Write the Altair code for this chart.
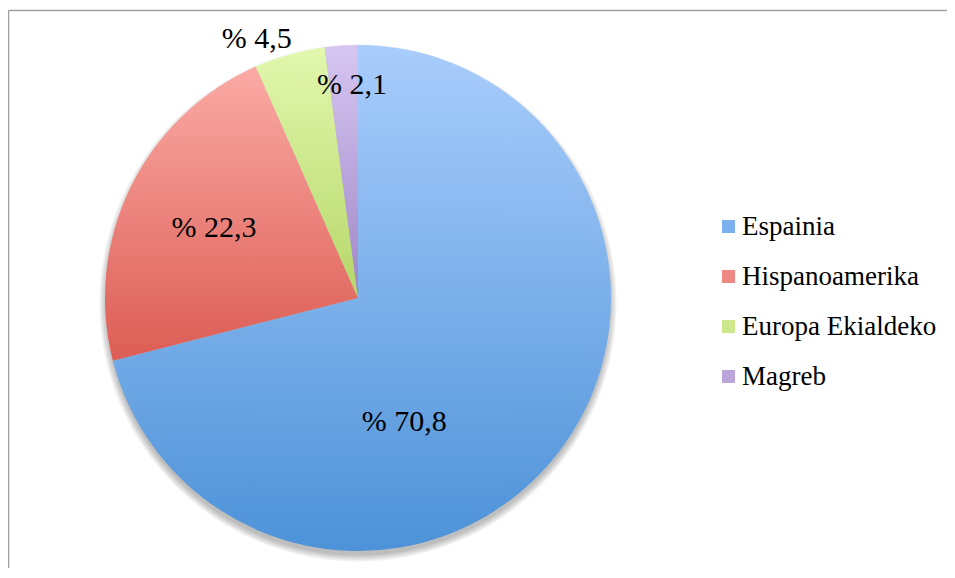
import math
import altair as alt
import pandas as pd

# ---- data ----
categories = ["Espainia", "Hispanoamerika", "Europa Ekialdeko", "Magreb"]
values = [70.8, 22.3, 4.5, 2.1]
labels = ["% 70,8", "% 22,3", "% 4,5", "% 2,1"]

# ---- style ----
grad_top = ["#a9cdfc", "#fbaaa5", "#e2f8ae", "#d6c6f1"]
grad_bottom = ["#4d92d8", "#dc5d54", "#b5d768", "#9f86c6"]
legend_colors = ["#7cb0ee", "#ee8882", "#cce78c", "#bba6dc"]
# per-label placement: (radius, dx, dy)
label_place = [(132, -58, 43), (160, 0, 0), (278, -26, 9), (212, 8, -1)]

W, H = 939, 560
CX, CY, R = 350, 290, 253
FONT = "Liberation Serif"

df = pd.DataFrame({"cat": categories, "value": values, "label": labels,
                   "order": list(range(len(categories)))})
total = float(sum(values))
theta_scale = alt.Scale(domain=[0, total], range=[0, 2 * math.pi])


def base():
    return (alt.Chart(df)
            .transform_window(end="sum(value)", sort=[alt.SortField("order")],
                              frame=[None, 0])
            .transform_calculate(start="datum.end - datum.value",
                                 mid="datum.end - datum.value / 2"))


layers = []

# soft drop shadow under the pie
for r in [252.5, 254, 255.5, 257, 258.5]:
    layers.append(
        alt.Chart(df).transform_aggregate(total="sum(value)")
        .mark_arc(radius=r, color="#000000", opacity=0.055)
        .encode(theta=alt.Theta("total:Q", scale=theta_scale),
                x=alt.value(CX), y=alt.value(CY + 5))
    )

# slices with gradient fill
for c, top, bot in zip(categories, grad_top, grad_bottom):
    grad = {"gradient": "linear", "x1": 0, "y1": 0, "x2": 0, "y2": 1,
            "stops": [{"offset": 0, "color": top}, {"offset": 1, "color": bot}]}
    layers.append(
        base().transform_filter(alt.datum.cat == c)
        .mark_arc(radius=R, fill=grad)
        .encode(theta=alt.Theta("start:Q", scale=theta_scale, stack=None),
                theta2="end:Q",
                x=alt.value(CX), y=alt.value(CY))
    )

# legend carrier (invisible arc)
layers.append(
    alt.Chart(df).mark_arc(radius=0)
    .encode(theta=alt.Theta("value:Q", scale=theta_scale),
            color=alt.Color("cat:N", sort=categories,
                            scale=alt.Scale(domain=categories, range=legend_colors),
                            legend=alt.Legend(title=None, orient="none",
                                              legendX=707, legendY=205, padding=0,
                                              symbolType="square", symbolSize=169,
                                              symbolStrokeWidth=0,
                                              labelFont=FONT, labelFontSize=27,
                                              labelColor="black", labelOffset=0,
                                              rowPadding=22, labelLimit=400)),
            x=alt.value(CX), y=alt.value(CY))
)

# labels
for c, (lr, dx, dy) in zip(categories, label_place):
    layers.append(
        base().transform_filter(alt.datum.cat == c)
        .mark_text(radius=lr, dx=dx, dy=dy, font=FONT, fontSize=30,
                   color="black", align="center", baseline="middle")
        .encode(theta=alt.Theta("mid:Q", scale=theta_scale, stack=None),
                text="label:N", x=alt.value(CX), y=alt.value(CY))
    )

# chart border (left and top visible)
one = alt.Chart(df).transform_aggregate(n="count()")
layers.append(one.mark_rule(color="#a0a0a0", strokeWidth=1.5)
              .encode(x=alt.value(0.5), x2=alt.value(W), y=alt.value(2.5)))
layers.append(one.mark_rule(color="#a0a0a0", strokeWidth=1.5)
              .encode(x=alt.value(0.5), y=alt.value(2.5), y2=alt.value(H)))

chart = (alt.layer(*layers)
         .properties(width=W, height=H, padding=0, autosize="none")
         .configure_view(stroke=None))

chart.save("out.html", embed_options={"renderer": "svg", "actions": False})
